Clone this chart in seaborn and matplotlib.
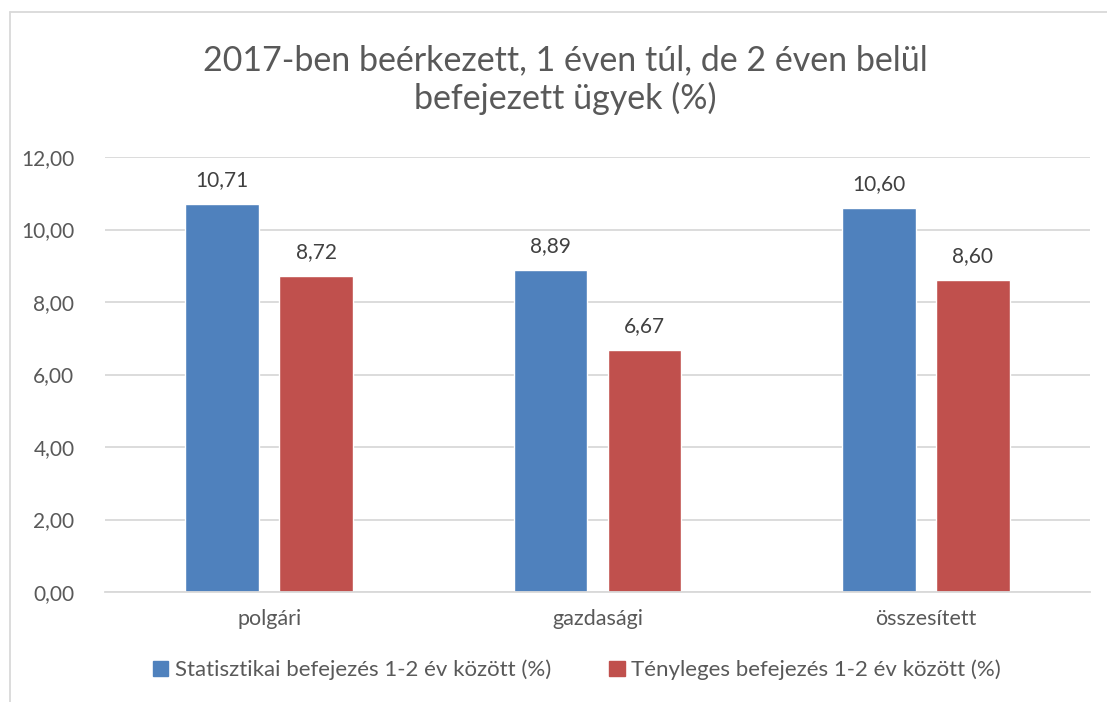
import pandas as pd
import matplotlib.pyplot as plt
import seaborn as sns
from matplotlib.lines import Line2D

# Chart data
categories = ['polgári', 'gazdasági', 'összesített']
series_names = ['Statisztikai befejezés 1-2 év között (%)',
                'Tényleges befejezés 1-2 év között (%)']
stat_values = [10.71, 8.89, 10.60]
real_values = [8.72, 6.67, 8.60]
y_ticks = [0, 2, 4, 6, 8, 10, 12]

df = pd.DataFrame({
    'kategoria': categories * 2,
    'sorozat': [series_names[0]] * 3 + [series_names[1]] * 3,
    'ertek': stat_values + real_values,
})

sns.set_theme(style='white')
plt.rcParams['font.family'] = ['Lato', 'DejaVu Sans']
text_color = '#595959'

fig = plt.figure(figsize=(11.07, 7.02), dpi=100)
ax = fig.add_axes([105 / 1107, 1 - 592 / 702, (1090 - 105) / 1107, (592 - 157) / 702])

sns.barplot(data=df, x='kategoria', y='ertek', hue='sorozat', ax=ax,
            palette=['#4F81BD', '#C0504D'], width=0.573, gap=0.218,
            saturation=1, errorbar=None, legend=False)

# Value labels
for cont in ax.containers:
    ax.bar_label(cont, labels=[f'{v:.2f}'.replace('.', ',') for v in cont.datavalues],
                 padding=10, fontsize=15, color='#404040')

ax.set_ylim(0, 12)
ax.set_xlim(-0.5, 2.5)
ax.set_yticks(y_ticks)
ax.set_yticklabels([f'{t:.2f}'.replace('.', ',') for t in y_ticks], fontsize=15, color=text_color)
ax.set_xticklabels(categories, fontsize=15.5, color=text_color)
ax.tick_params(axis='y', length=0, pad=22)
ax.tick_params(axis='x', length=0, pad=12)
ax.set_xlabel('')
ax.set_ylabel('')
ax.yaxis.grid(True, color='#D9D9D9', linewidth=1.3)
ax.set_axisbelow(True)
for side in ['top', 'right', 'left']:
    ax.spines[side].set_visible(False)
ax.spines['bottom'].set_color('#D9D9D9')
ax.spines['bottom'].set_linewidth(1.3)

fig.suptitle('2017-ben beérkezett, 1 éven túl, de 2 éven belül\nbefejezett ügyek (%)',
             x=565 / 1107, y=1 - 44 / 702, fontsize=24.5, color=text_color, linespacing=1.2)

# Legend
handles = [plt.Rectangle((0, 0), 1, 1, color=c) for c in ['#4F81BD', '#C0504D']]
fig.legend(handles, series_names, loc='center', bbox_to_anchor=(577 / 1107, 1 - 670 / 702),
           ncol=2, frameon=False, fontsize=16, labelcolor=text_color,
           handlelength=0.7, handleheight=0.7, handletextpad=0.3, columnspacing=2.6)

# Chart border
fig.add_artist(Line2D([10 / 1107, 10 / 1107], [0, 1 - 12 / 702], color='#D9D9D9', lw=1.3))
fig.add_artist(Line2D([10 / 1107, 1], [1 - 12 / 702, 1 - 12 / 702], color='#D9D9D9', lw=1.3))

fig.savefig('out.png', dpi=100)
